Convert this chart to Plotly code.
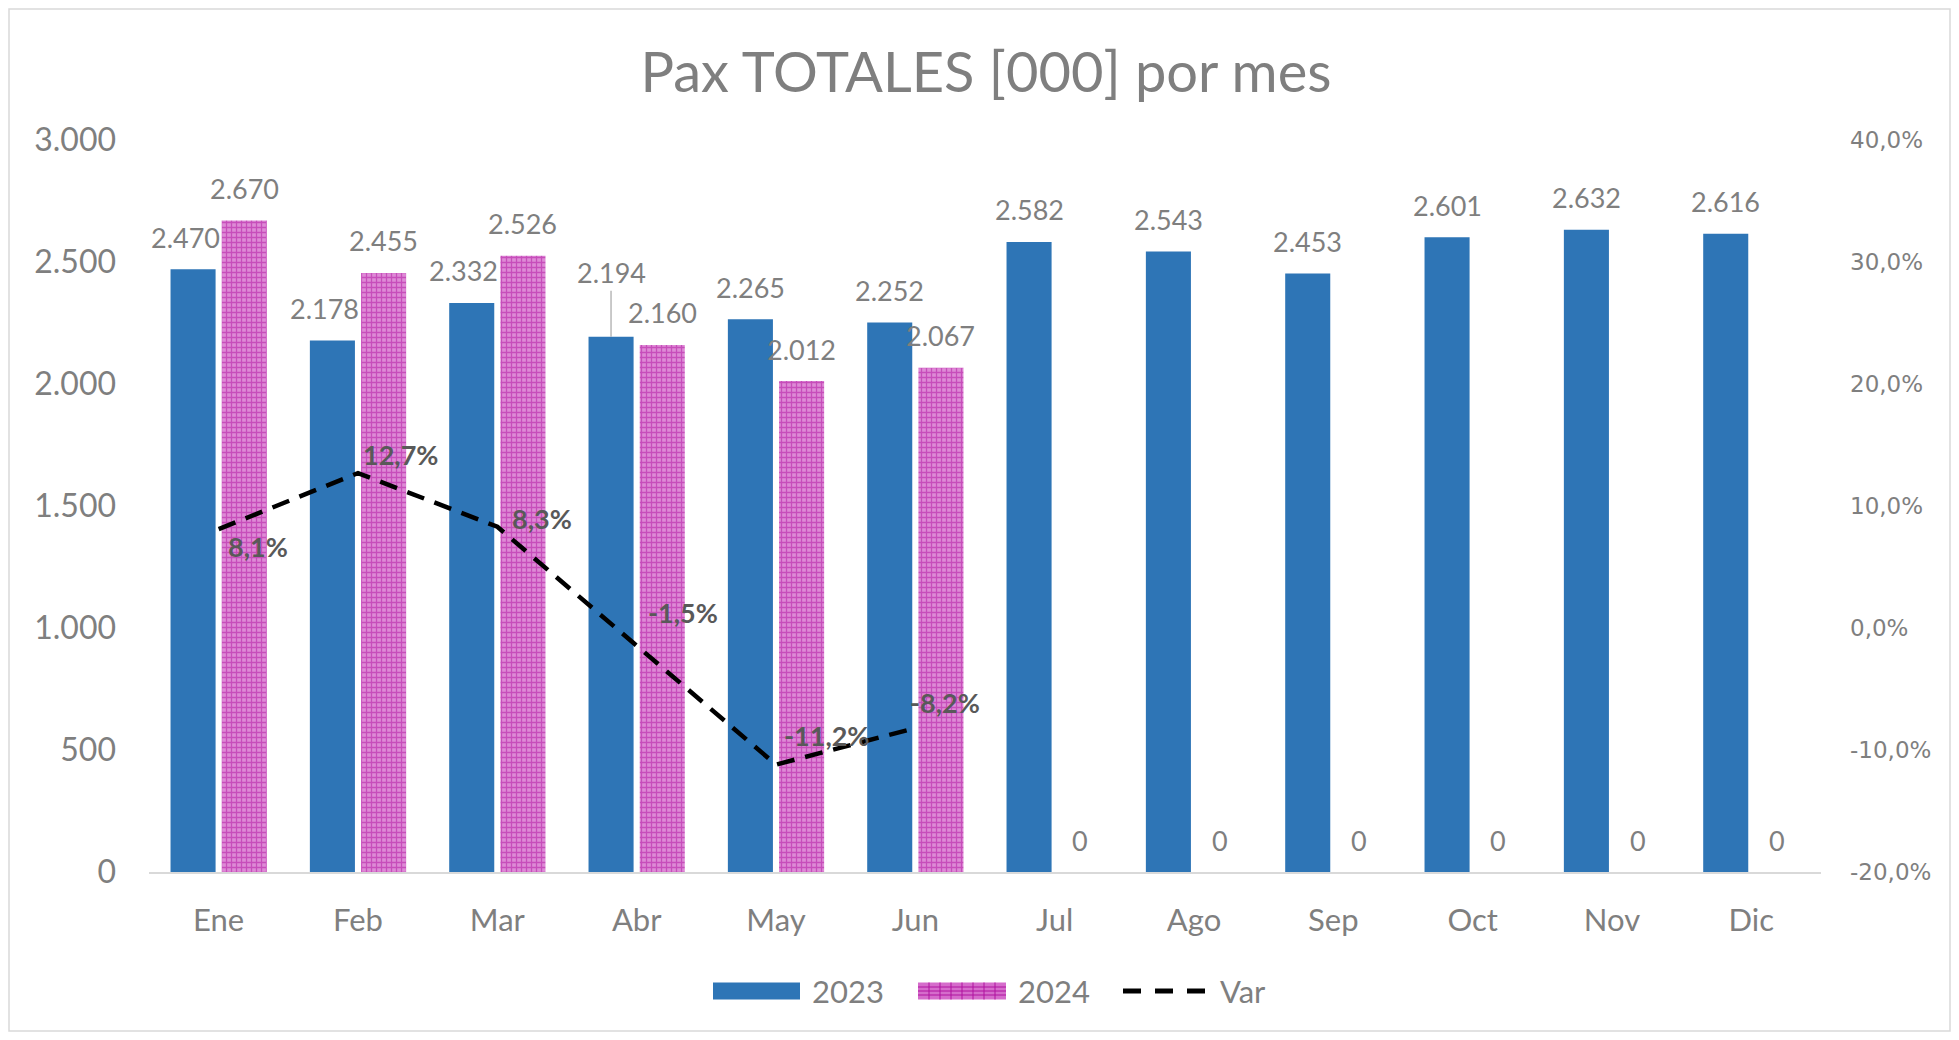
import plotly.graph_objects as go

months = ["Ene", "Feb", "Mar", "Abr", "May", "Jun", "Jul", "Ago", "Sep", "Oct", "Nov", "Dic"]
pax_2023 = [2470, 2178, 2332, 2194, 2265, 2252, 2582, 2543, 2453, 2601, 2632, 2616]
pax_2024 = [2670, 2455, 2526, 2160, 2012, 2067, 0, 0, 0, 0, 0, 0]
var_pct = [8.1, 12.7, 8.3, -1.5, -11.2, -8.2]
left_ticks = [0, 500, 1000, 1500, 2000, 2500, 3000]
right_ticks = [-20, -10, 0, 10, 20, 30, 40]
series_names = ["2023", "2024", "Var"]

FONT = "Lato, sans-serif"
GREY = "#7f7f7f"
BLUE = "#2E75B6"
PINK_BG = "#DE8AD6"
PINK_FG = "#B0129F"

# figure size (page has an 8px body margin)
FW, FH = 1943, 1024
L, R, T, B = 141, 130, 132, 160
PW, PH = FW - L - R, FH - T - B


def px_x(fx):
    return (fx - L) / PW


def px_y(fy):
    return (FH - B - fy) / PH


def fmt_thousands(v):
    return f"{v:,}".replace(",", ".")


def fmt_pct(v):
    return f"{v:.1f}".replace(".", ",") + "%"


idx = list(range(len(months)))

fig = go.Figure()
fig.add_trace(go.Bar(
    x=idx, y=pax_2023, name=series_names[0], marker=dict(color=BLUE, line=dict(width=0)),
    offsetgroup="a", yaxis="y", showlegend=False))
fig.add_trace(go.Bar(
    x=idx, y=pax_2024, name=series_names[1],
    marker=dict(color=PINK_BG, line=dict(width=0),
                pattern=dict(shape="+", size=5, solidity=0.45, fgcolor=PINK_FG, bgcolor=PINK_BG)),
    offsetgroup="b", yaxis="y", showlegend=False))
fig.add_trace(go.Scatter(
    x=idx[:len(var_pct)], y=var_pct, name=series_names[2], mode="lines", yaxis="y2",
    line=dict(color="black", width=4.5, dash="18px,11px"), showlegend=False))

bar_off = 0.184
LBL = dict(family=FONT, size=27, color=GREY)
annotations = []
for i, v in enumerate(pax_2023):
    if i == 3:
        annotations.append(dict(x=i - bar_off, y=v, xref="x", yref="y", text=fmt_thousands(v),
                                showarrow=True, arrowhead=0, arrowcolor="#a6a6a6", arrowwidth=1.2,
                                ax=0, ay=-64, standoff=0, font=LBL))
    else:
        annotations.append(dict(x=i - bar_off, y=v, xref="x", yref="y", text=fmt_thousands(v),
                                showarrow=False, yshift=32, xshift=(-8 if i < 3 else 0), font=LBL))
for i, v in enumerate(pax_2024):
    annotations.append(dict(x=i + bar_off, y=v, xref="x", yref="y", text=fmt_thousands(v),
                            showarrow=False, yshift=32, font=LBL))

label_shift = [(39, -17), (42, 19), (45, 8), (46, 34), (51, 29), (30, 26)]
for i, v in enumerate(var_pct):
    dx, dy = label_shift[i]
    annotations.append(dict(x=i, y=v, xref="x", yref="y2", text="<b>" + fmt_pct(v) + "</b>",
                            showarrow=False, xshift=dx, yshift=dy,
                            font=dict(family=FONT, size=27, color="#595959")))

# custom legend (figure pixel coordinates)
LEG_Y = 983
LEG_FONT = dict(family=FONT, size=31, color=GREY)
shapes = []
shapes.append(dict(type="rect", xref="paper", yref="paper",
                   x0=px_x(705), x1=px_x(792), y0=px_y(LEG_Y + 8.5), y1=px_y(LEG_Y - 8.5),
                   fillcolor=BLUE, line=dict(width=0)))
shapes.append(dict(type="rect", xref="paper", yref="paper",
                   x0=px_x(910), x1=px_x(998), y0=px_y(LEG_Y + 8.5), y1=px_y(LEG_Y - 8.5),
                   fillcolor="#D56CCB", line=dict(width=0)))
for k in range(1, 8):
    gx = 910 + k * 11
    shapes.append(dict(type="line", xref="paper", yref="paper", x0=px_x(gx), x1=px_x(gx),
                       y0=px_y(LEG_Y + 8.5), y1=px_y(LEG_Y - 8.5), line=dict(color=PINK_FG, width=1)))
for dy in (-4, 0, 4):
    shapes.append(dict(type="line", xref="paper", yref="paper", x0=px_x(910), x1=px_x(998),
                       y0=px_y(LEG_Y + dy), y1=px_y(LEG_Y + dy), line=dict(color=PINK_FG, width=1)))
for k in range(3):
    sx = 1115 + k * 32
    shapes.append(dict(type="line", xref="paper", yref="paper", x0=px_x(sx), x1=px_x(sx + 18),
                       y0=px_y(LEG_Y), y1=px_y(LEG_Y), line=dict(color="black", width=5)))
for name, tx in zip(series_names, [802, 1008, 1210]):
    annotations.append(dict(x=px_x(tx), y=px_y(LEG_Y), xref="paper", yref="paper", text=name,
                            xanchor="left", yanchor="middle", showarrow=False, font=LEG_FONT))

# chart border
shapes.append(dict(type="rect", xref="paper", yref="paper",
                   x0=px_x(1), x1=px_x(FW - 1), y0=px_y(FH - 1), y1=px_y(1),
                   line=dict(color="#d9d9d9", width=1.5), fillcolor="rgba(0,0,0,0)", layer="below"))

fig.update_layout(
    width=FW, height=FH,
    margin=dict(l=L, r=R, t=T, b=B, autoexpand=False),
    paper_bgcolor="white", plot_bgcolor="white",
    barmode="group", bargap=0.265, bargroupgap=0.12,
    showlegend=False,
    title=dict(text="Pax TOTALES [000] por mes", x=978 / FW, xanchor="center",
               y=1 - 64.5 / FH, yanchor="middle",
               font=dict(family=FONT, size=56, color=GREY)),
    xaxis=dict(range=[-0.5, 11.5], tickmode="array", tickvals=idx, ticktext=months,
               showgrid=False, zeroline=False, showline=True, linecolor="#d9d9d9", linewidth=1.5,
               ticks="", ticklabelstandoff=20,
               tickfont=dict(family=FONT, size=31, color=GREY)),
    yaxis=dict(range=[0, 3000], tickmode="array", tickvals=left_ticks,
               ticktext=[fmt_thousands(t) for t in left_ticks],
               showgrid=False, zeroline=False, showline=False, ticks="", ticklabelstandoff=32,
               tickfont=dict(family=FONT, size=32, color=GREY)),
    yaxis2=dict(range=[-20, 40], overlaying="y", side="right", tickmode="array", tickvals=right_ticks,
                ticktext=[fmt_pct(t) for t in right_ticks],
                showgrid=False, zeroline=False, showline=False, ticks="", ticklabelstandoff=28,
                tickfont=dict(family="DejaVu Sans, sans-serif", size=23, color=GREY)),
    annotations=annotations,
    shapes=shapes,
)

fig.write_html("out.html")
